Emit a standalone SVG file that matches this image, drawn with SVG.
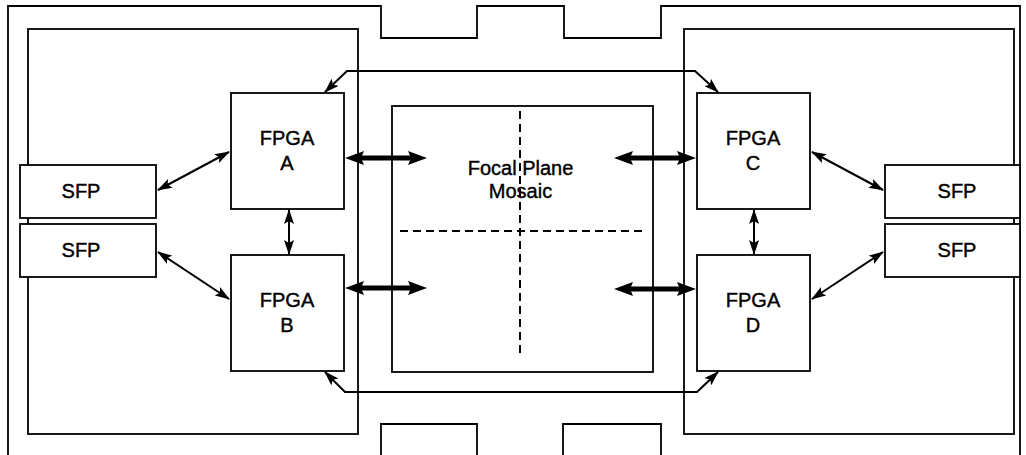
<svg xmlns="http://www.w3.org/2000/svg" width="1026" height="455" viewBox="0 0 1026 455">
  <style>
    .box { fill: #fff; stroke: #000; stroke-width: 1.8; }
    .outline { fill: none; stroke: #000; stroke-width: 1.8; }
    .lbl { font-family: "Liberation Sans", Arial, sans-serif; font-size: 20px; fill: #000; stroke: #000; stroke-width: 0.4; text-anchor: middle; }
    .thin { fill: none; stroke: #000; stroke-width: 2; marker-start: url(#ah); marker-end: url(#ah); }
    .bold { fill: none; stroke: #000; stroke-width: 5; marker-start: url(#bh); marker-end: url(#bh); }
    .dash { fill: none; stroke: #000; stroke-width: 2; stroke-dasharray: 8 5; }
  </style>
  <defs>
    <marker id="ah" viewBox="0 0 15 10" refX="14" refY="5" markerWidth="15" markerHeight="10" markerUnits="userSpaceOnUse" orient="auto-start-reverse">
      <path d="M0,0 L15,5 L0,10 L3,5 Z" fill="#000"/>
    </marker>
    <!-- bold head: shaft stops inside the head so the tip stays sharp -->
    <marker id="bh" viewBox="0 0 19 14" refX="8" refY="7" markerWidth="19" markerHeight="14" markerUnits="userSpaceOnUse" orient="auto-start-reverse">
      <path d="M0,0 L19,7 L0,14 L3,7 Z" fill="#000"/>
    </marker>
  </defs>

  <rect width="1026" height="455" fill="#fff"/>

  <!-- enclosure outline with notches -->
  <path class="outline" d="M8,460 L8,6 L381,6 L381,38 L477,38 L477,6 L564,6 L564,38 L661,38 L661,6 L1020,6 L1020,460"/>
  <path class="outline" d="M381,460 L381,424 L477,424 L477,460 M563,460 L563,424 L661,424 L661,460"/>

  <!-- boards -->
  <g id="board-left"><rect class="box" x="28" y="29" width="330" height="405"/></g>
  <g id="board-right"><rect class="box" x="684" y="29" width="330" height="405"/></g>

  <!-- focal plane -->
  <g id="focal-plane">
    <rect class="box" x="392" y="106" width="261" height="266"/>
    <path class="dash" d="M520,111 L520,355 M400,231 L642,231"/>
    <text class="lbl" x="520.5" y="175">Focal Plane</text>
    <text class="lbl" x="520.5" y="198">Mosaic</text>
  </g>

  <g id="fpga-a">
    <rect class="box" x="231" y="93" width="113" height="116"/>
    <text class="lbl" x="287" y="145">FPGA</text>
    <text class="lbl" x="287" y="170">A</text>
  </g>
  <g id="fpga-b">
    <rect class="box" x="231" y="255" width="113" height="116"/>
    <text class="lbl" x="287" y="307">FPGA</text>
    <text class="lbl" x="287" y="332">B</text>
  </g>
  <g id="fpga-c">
    <rect class="box" x="697" y="93" width="113" height="116"/>
    <text class="lbl" x="753" y="145">FPGA</text>
    <text class="lbl" x="753" y="170">C</text>
  </g>
  <g id="fpga-d">
    <rect class="box" x="697" y="255" width="113" height="116"/>
    <text class="lbl" x="753" y="307">FPGA</text>
    <text class="lbl" x="753" y="332">D</text>
  </g>

  <g id="sfp-l1">
    <rect class="box" x="20" y="165" width="136" height="53"/>
    <text class="lbl" x="81" y="198">SFP</text>
  </g>
  <g id="sfp-l2">
    <rect class="box" x="20" y="224" width="136" height="53"/>
    <text class="lbl" x="81" y="257">SFP</text>
  </g>
  <g id="sfp-r1">
    <rect class="box" x="885" y="165" width="135" height="53"/>
    <text class="lbl" x="957" y="198">SFP</text>
  </g>
  <g id="sfp-r2">
    <rect class="box" x="885" y="224" width="135" height="53"/>
    <text class="lbl" x="957" y="257">SFP</text>
  </g>

  <g id="connectors">
    <path class="thin" d="M325,92 L347,71 L695,71 L718,92"/>
    <path class="thin" d="M325,372 L345,392 L697,392 L718,372"/>
    <path class="thin" d="M289,210 L289,254"/>
    <path class="thin" d="M754,210 L754,254"/>
    <path class="thin" d="M158,190 L229,152"/>
    <path class="thin" d="M158,252 L229,299"/>
    <path class="thin" d="M812,152 L883,190"/>
    <path class="thin" d="M883,252 L812,299"/>
    <path class="bold" d="M356,158 L416,158"/>
    <path class="bold" d="M356,288 L416,288"/>
    <path class="bold" d="M625,158 L685,158"/>
    <path class="bold" d="M625,289 L685,289"/>
  </g>
</svg>
